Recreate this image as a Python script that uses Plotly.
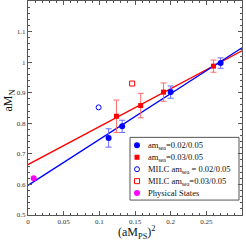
import plotly.graph_objects as go

# data
blue_x = [0.113, 0.132, 0.200, 0.270]
blue_y = [0.752, 0.790, 0.902, 0.997]
blue_err = [0.030, 0.020, 0.020, 0.017]

red_x = [0.124, 0.158, 0.190, 0.260]
red_y = [0.823, 0.858, 0.902, 0.987]
red_err = [0.053, 0.040, 0.030, 0.020]

milc_blue_x = [0.099]
milc_blue_y = [0.852]
milc_red_x = [0.146]
milc_red_y = [0.930]

phys_x = [0.008]
phys_y = [0.620]

fit_x = [0.0, 0.3]
blue_fit_y = [0.597, 1.047]
red_fit_y = [0.665, 1.037]

legend_labels = ["am<sub>sea</sub>=0.02/0.05", "am<sub>sea</sub>=0.03/0.05",
                 "MILC am<sub>sea</sub> = 0.02/0.05", "MILC am<sub>sea</sub>=0.03/0.05",
                 "Physical States"]

BLUE = "#0000ff"
RED = "#ff0000"
MAG = "#ff00ff"
serif = "Liberation Serif"

# pixel layout of the plot area
L, R, T, B = 28, 242, 0, 215
W, H = 246, 244

fig = go.Figure()
fig.add_trace(go.Scatter(x=fit_x, y=red_fit_y, mode="lines", line=dict(color=RED, width=1.3), showlegend=False))
fig.add_trace(go.Scatter(x=fit_x, y=blue_fit_y, mode="lines", line=dict(color=BLUE, width=1.3), showlegend=False))

m_blue = dict(color=BLUE, size=6, symbol="circle")
m_red = dict(color=RED, size=5, symbol="square")
m_oblue = dict(color=BLUE, size=5, symbol="circle-open", line=dict(width=1))
m_ored = dict(color=RED, size=5, symbol="square-open", line=dict(width=1))
m_mag = dict(color=MAG, size=6, symbol="circle")

fig.add_trace(go.Scatter(x=blue_x, y=blue_y, mode="markers", marker=m_blue, showlegend=False,
                         error_y=dict(type="data", array=blue_err, color="#6a6aff", thickness=1, width=3)))
fig.add_trace(go.Scatter(x=red_x, y=red_y, mode="markers", marker=m_red, showlegend=False,
                         error_y=dict(type="data", array=red_err, color="#ff6a6a", thickness=1, width=3)))
fig.add_trace(go.Scatter(x=milc_blue_x, y=milc_blue_y, mode="markers", marker=m_oblue, showlegend=False))
fig.add_trace(go.Scatter(x=milc_red_x, y=milc_red_y, mode="markers", marker=m_ored, showlegend=False))
fig.add_trace(go.Scatter(x=phys_x, y=phys_y, mode="markers", marker=m_mag, showlegend=False))

# hand-drawn legend in pixel coordinates (overlay axes)
leg_rows = [145, 157, 169, 181, 193]
leg_markers = [m_blue, m_red, m_oblue, m_ored, m_mag]
for yy, mk in zip(leg_rows, leg_markers):
    fig.add_trace(go.Scatter(x=[137], y=[yy], mode="markers", marker=mk, showlegend=False,
                             xaxis="x2", yaxis="y2", hoverinfo="skip"))
fig.add_shape(type="rect", xref="x2", yref="y2", x0=130, x1=239, y0=137, y1=200,
              line=dict(color="#555555", width=1), fillcolor="white", layer="below")
for yy, lab in zip(leg_rows, legend_labels):
    fig.add_annotation(xref="x2", yref="y2", x=146, y=yy, text=lab, showarrow=False,
                       xanchor="left", yanchor="middle",
                       font=dict(family=serif, size=8.5, color="#111111"))

axis_common = dict(showline=True, mirror="ticks", linecolor="#555555", linewidth=1,
                   ticks="inside", ticklen=4, tickcolor="#555555", showgrid=False, zeroline=False,
                   automargin=False,
                   tickfont=dict(family=serif, size=7, color="#333333"))

fig.update_layout(
    xaxis=dict(range=[0, 0.3], dtick=0.05, tick0=0,
               minor=dict(ticks="inside", ticklen=2, dtick=0.01, tickcolor="#555555", showgrid=False),
               **axis_common),
    yaxis=dict(range=[0.5, 1.2], dtick=0.1, tick0=0.5,
               minor=dict(ticks="inside", ticklen=2, dtick=0.02, tickcolor="#555555", showgrid=False),
               **axis_common),
    xaxis2=dict(range=[L, R], overlaying="x", visible=False, fixedrange=True),
    yaxis2=dict(range=[B, T], overlaying="y", visible=False, fixedrange=True),
    width=W, height=H,
    margin=dict(l=L, r=W - R, t=T + 1, b=H - B, autoexpand=False),
    paper_bgcolor="white", plot_bgcolor="white",
    showlegend=False,
)

# axis titles
fig.add_annotation(xref="paper", yref="paper", x=(137 - L) / (R - L), y=-(233 - B) / (B - T),
                   text="(aM<sub>PS</sub>)<sup>2</sup>", showarrow=False, xanchor="center", yanchor="middle",
                   font=dict(family=serif, size=12, color="#111111"))
fig.add_annotation(xref="paper", yref="paper", x=-(L - 9) / (R - L), y=(B - 100) / (B - T),
                   text="aM<sub>N</sub>", showarrow=False, textangle=-90, xanchor="center", yanchor="middle",
                   font=dict(family=serif, size=12, color="#111111"))

fig.write_html("out.html", config={"displayModeBar": False},
               post_script="document.body.style.margin='0px';document.body.style.overflow='hidden';")
